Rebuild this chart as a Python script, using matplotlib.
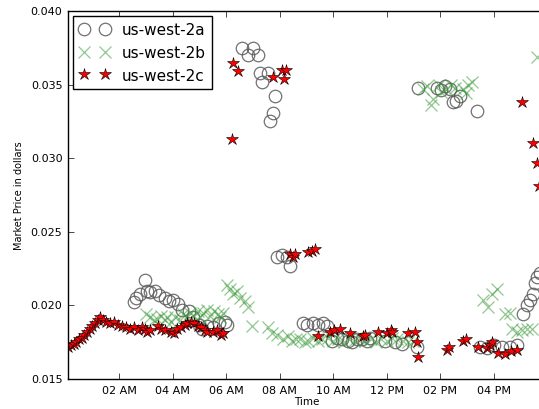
import datetime as dt
import matplotlib
matplotlib.use("Agg")
import matplotlib.pyplot as plt
import matplotlib.dates as mdates

# spot price samples, time in hours after midnight
hours_2a = [2.55, 2.65, 2.80, 2.95, 3.05, 3.15, 3.35, 3.50, 3.70, 3.85, 4.00, 4.20,
            4.35, 4.60, 4.75, 5.00, 5.10, 5.30, 5.50, 5.75, 5.95, 6.05,
            6.60, 6.82, 7.01, 7.20, 7.27, 7.35, 7.57, 7.64, 7.76, 7.83,
            7.91, 8.09, 8.28, 8.39, 8.88, 9.03, 9.25, 9.45, 9.63, 9.78,
            9.96, 10.15, 10.34, 10.55, 10.71, 10.90, 11.08, 11.25, 11.38, 11.94,
            12.32, 12.58, 13.14, 13.18, 13.89, 14.05, 14.19, 14.37, 14.49, 14.60,
            14.75, 15.38, 15.50, 15.76, 16.00, 16.32, 16.62, 16.88, 17.10, 17.25,
            17.36, 17.48, 17.55, 17.63, 17.75]
price_2a = [0.0202, 0.0205, 0.0208, 0.0217, 0.0210, 0.0209, 0.0210, 0.0207, 0.0205, 0.0203, 0.0204, 0.0201,
            0.0197, 0.0196, 0.0192, 0.0187, 0.0184, 0.0186, 0.0185, 0.0188, 0.0189, 0.0187,
            0.0375, 0.0370, 0.0375, 0.0370, 0.0358, 0.0352, 0.0358, 0.0325, 0.0331, 0.0342,
            0.0233, 0.0234, 0.0233, 0.0227, 0.0188, 0.0187, 0.0188, 0.0187, 0.0188, 0.0186,
            0.0176, 0.0178, 0.0177, 0.0176, 0.0175, 0.0177, 0.0177, 0.0176, 0.0178, 0.0176,
            0.0175, 0.0174, 0.0172, 0.0348, 0.0348, 0.0346, 0.0349, 0.0347, 0.0338, 0.0339,
            0.0342, 0.0332, 0.0172, 0.0171, 0.0173, 0.0172, 0.0172, 0.0173, 0.0194, 0.0200,
            0.0204, 0.0208, 0.0215, 0.0219, 0.0222]

hours_2b = [3.00, 3.15, 3.30, 3.42, 3.55, 3.70, 3.79, 3.95, 4.10, 4.28, 4.40, 4.55,
            4.65, 4.80, 4.95, 5.03, 5.15, 5.30, 5.40, 5.55, 5.70, 5.78, 5.90,
            6.04, 6.15, 6.26, 6.40, 6.52, 6.70, 6.82, 6.97, 7.57, 7.70, 7.91, 8.13,
            8.30, 8.47, 8.60, 8.77, 8.95, 9.07, 9.25, 9.45, 9.60, 9.80, 10.00, 10.20,
            10.40, 10.60, 10.80, 11.00, 11.20, 11.40, 11.60, 11.80, 12.00, 12.20, 12.40,
            12.60, 12.80, 13.00, 13.35, 13.50, 13.65, 13.75, 13.95, 14.05, 14.22, 14.40,
            14.55, 14.85, 14.95, 15.05, 15.18, 15.61, 15.79, 15.94, 16.13, 16.43, 16.62,
            16.70, 16.88, 17.07, 17.25, 17.44, 17.63]
price_2b = [0.0194, 0.0192, 0.0190, 0.0191, 0.0193, 0.0190, 0.0192, 0.0189, 0.0192, 0.0190, 0.0194, 0.0192,
            0.0195, 0.0193, 0.0196, 0.0192, 0.0195, 0.0197, 0.0193, 0.0196, 0.0194, 0.0192, 0.0195,
            0.0214, 0.0211, 0.0208, 0.0210, 0.0205, 0.0203, 0.0199, 0.0186, 0.0185, 0.0181, 0.0180, 0.0177,
            0.0179, 0.0176, 0.0177, 0.0177, 0.0175, 0.0176, 0.0178, 0.0176, 0.0177, 0.0178, 0.0176, 0.0177,
            0.0175, 0.0177, 0.0176, 0.0178, 0.0176, 0.0177, 0.0175, 0.0177, 0.0176, 0.0178, 0.0177,
            0.0176, 0.0175, 0.0176, 0.0347, 0.0349, 0.0336, 0.0340, 0.0350, 0.0345, 0.0347, 0.0350,
            0.0348, 0.0347, 0.0344, 0.0350, 0.0352, 0.0204, 0.0199, 0.0208, 0.0211, 0.0194, 0.0195,
            0.0184, 0.0182, 0.0183, 0.0184, 0.0184, 0.0369]

hours_2c = [0.09, 0.20, 0.30, 0.40, 0.50, 0.60, 0.70, 0.80, 0.90, 1.00, 1.10, 1.20,
            1.30, 1.40, 1.50, 1.65, 1.80, 1.95, 2.10, 2.25, 2.40, 2.55, 2.70, 2.85,
            2.95, 3.05, 3.15, 3.45, 3.55, 3.70, 3.95, 4.05, 4.15, 4.30, 4.45, 4.55,
            4.70, 4.80, 4.95, 5.05, 5.20, 5.30, 5.50, 5.65, 5.80, 5.90,
            6.22, 6.26, 6.45, 7.76, 8.09, 8.17, 8.24, 8.39, 8.50, 8.58, 9.07, 9.20,
            9.33, 9.44, 9.89, 10.05, 10.26, 10.64, 11.12, 11.20, 11.68, 12.02, 12.15, 12.21,
            12.80, 13.07, 13.14, 13.18, 14.26, 14.35, 14.86, 14.95, 15.42, 15.76, 15.85, 15.94,
            16.17, 16.43, 16.65, 16.88, 17.07, 17.48, 17.63, 17.70]
price_2c = [0.0172, 0.0173, 0.0174, 0.0175, 0.0177, 0.0178, 0.0180, 0.0182, 0.0184, 0.0186, 0.0188, 0.0190,
            0.0192, 0.0190, 0.0189, 0.0188, 0.0189, 0.0187, 0.0186, 0.0185, 0.0184, 0.0185, 0.0183, 0.0185,
            0.0184, 0.0182, 0.0183, 0.0186, 0.0184, 0.0183, 0.0182, 0.0181, 0.0184, 0.0185, 0.0187, 0.0188,
            0.0189, 0.0188, 0.0186, 0.0185, 0.0183, 0.0182, 0.0182, 0.0183, 0.0180, 0.0181,
            0.0313, 0.0365, 0.0359, 0.0355, 0.0360, 0.0354, 0.0360, 0.0235, 0.0233, 0.0235, 0.0236, 0.0237,
            0.0238, 0.0179, 0.0182, 0.0183, 0.0184, 0.0181, 0.0179, 0.0180, 0.0182, 0.0181, 0.0183, 0.0182,
            0.0181, 0.0182, 0.0175, 0.0165, 0.0170, 0.0172, 0.0176, 0.0177, 0.0172, 0.0171, 0.0173, 0.0175,
            0.0168, 0.0167, 0.0169, 0.0170, 0.0338, 0.0310, 0.0297, 0.0281]

day = dt.datetime(2015, 3, 10)


def to_times(hours):
    return [day + dt.timedelta(hours=h) for h in hours]


plt.style.use("classic")
fig = plt.figure(figsize=(5.39, 4.10), dpi=100)
# the right edge of the axes runs past the figure, as in the original crop
x_start, x_end = 0.09, 17.97
px_per_hour = 26.75
ax = fig.add_axes([68 / 539, 30 / 410, (x_end - x_start) * px_per_hour / 539, 368 / 410])

ax.plot(to_times(hours_2a), price_2a, linestyle="none", marker="o", markersize=9,
        markerfacecolor="none", markeredgecolor="0.35", markeredgewidth=0.9,
        alpha=0.85, label="us-west-2a")
ax.plot(to_times(hours_2b), price_2b, linestyle="none", marker="x", markersize=9,
        markeredgecolor="#3a9a3a", markeredgewidth=0.9, alpha=0.55, label="us-west-2b")
ax.plot(to_times(hours_2c), price_2c, linestyle="none", marker="*", markersize=9,
        markerfacecolor="red", markeredgecolor="black", markeredgewidth=0.4,
        label="us-west-2c")

ax.set_xlim(day + dt.timedelta(hours=x_start), day + dt.timedelta(hours=x_end))
ax.set_ylim(0.015, 0.040)
ax.set_yticks([0.015, 0.020, 0.025, 0.030, 0.035, 0.040])
ax.yaxis.set_major_formatter(plt.FormatStrFormatter("%.3f"))
ax.xaxis.set_major_locator(mdates.HourLocator(byhour=range(0, 24, 2)))
ax.xaxis.set_major_formatter(mdates.DateFormatter("%I %p"))
ax.tick_params(labelsize=8)

ax.set_xlabel("Time", fontsize=7.5, labelpad=1)
ax.set_ylabel("Market Price in dollars", fontsize=7)
ax.legend(loc="upper left", fontsize=11, borderaxespad=0.35)

fig.savefig("out.png", dpi=100)
